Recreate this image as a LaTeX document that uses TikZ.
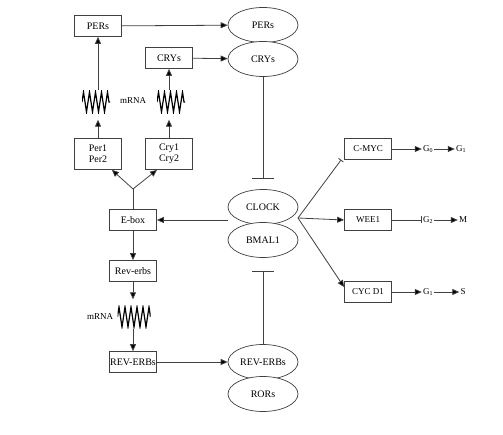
\documentclass[tikz,border=0pt]{standalone}
\usepackage{fontspec}
\setmainfont{Liberation Serif}
\usetikzlibrary{positioning,calc,arrows.meta,shapes.geometric,decorations.pathmorphing}

\begin{document}
\begin{tikzpicture}[x=1pt,y=-1pt,
    every node/.style={font=\fontsize{10}{11}\selectfont},
    gene/.style={draw=black!75, line width=0.7pt, minimum width=47pt, minimum height=21pt, inner sep=0pt, align=center},
    target/.style={gene, font=\fontsize{9}{10}\selectfont},
    prot/.style={ellipse, draw=black!75, line width=0.7pt, fill=white, minimum width=70pt, minimum height=35pt, inner sep=0pt},
    zig/.style={minimum width=28pt, minimum height=23pt, inner sep=0pt,
        path picture={\draw[line width=1.2pt, decorate, decoration={zigzag, segment length=6pt, amplitude=10pt}]
            (path picture bounding box.west) -- (path picture bounding box.east);}},
    phase/.style={inner sep=1pt, font=\fontsize{9}{10}\selectfont},
    link/.style={draw=black!75, line width=0.8pt},
    arr/.style={link, -{Triangle[length=7pt, width=6pt, fill=black]}},
    inh/.style={link, -{Bar[width=22pt, line width=0.8pt]}}
]
\useasboundingbox (0,0) rectangle (503,435);

% left column: genes and transcripts
\node[gene] (persg) at (98,26) {PERs};
\node[gene] (crysg) at (169,58) {CRYs};
\node[zig] (zper) at (96,102) {};
\node[zig] (zcry) at (171,102) {};
\node[font=\fontsize{9}{10}\selectfont] (mrna1) at (133,101) {mRNA};
\node[gene, minimum height=31pt] (per) at (98,154) {Per1\\Per2};
\node[gene, minimum height=31pt] (cry) at (169,154) {Cry1\\Cry2};
\coordinate (fork) at (133,189);
\node[gene] (ebox) at (133,220) {E-box};
\node[gene] (reverb) at (133,271) {Rev-erbs};
\node[zig, minimum width=33pt] (zrev) at (134,317) {};
\node[left=3pt of zrev, inner sep=1pt, font=\fontsize{9}{10}\selectfont] (mrna2) {mRNA};
\node[gene] (revg) at (133,362) {REV-ERBs};

% middle column: proteins
\node[prot] (pers) at (263,25) {PERs};
\node[prot] (crys) at (263,59) {CRYs};
\node[prot] (clock) at (263,207) {CLOCK};
\node[prot] (bmal) at (263,240) {BMAL1};
\node[prot] (reverbs) at (263,362) {REV-ERBs};
\node[prot] (rors) at (263,394) {RORs};

% right column: cell cycle
\node[target] (cmyc) at (368,149) {C-MYC};
\node[target] (wee) at (368,220) {WEE1};
\node[target] (cycd) at (368,292) {CYC D1};
\node[phase] (g0) at (428,149) {G\textsubscript{0}};
\node[phase] (g1) at (461,149) {G\textsubscript{1}};
\node[phase] (g2) at (428,220) {G\textsubscript{2}};
\node[phase] (mph) at (463,220) {M};
\node[phase] (g1s) at (428,292) {G\textsubscript{1}};
\node[phase] (sph) at (463,292) {S};
\coordinate (hub) at (298,218);

% connectors
\draw[arr] (persg) -- (pers);
\draw[arr] (crysg) -- (crys);
\draw[arr] (zper.north -| persg) -- (persg);
\draw[arr] (zcry.north -| crysg) -- (crysg);
\draw[arr, shorten >=6pt] (per) -- (per |- zper.south);
\draw[arr, shorten >=6pt] (cry) -- (cry |- zcry.south);
\draw[link] (ebox) -- (fork);
\draw[arr] (fork) -- ([xshift=-10pt]per.south east);
\draw[arr] (fork) -- ([xshift=-12pt]cry.south);
\draw[arr] (clock.west |- ebox) -- (ebox.east);
\draw[inh] (crys) -- ([yshift=10pt]clock.north);
\draw[arr] (ebox) -- (reverb);
\draw[arr, shorten >=6pt] (reverb) -- (reverb |- zrev.north);
\draw[arr] (reverb |- zrev.south) -- (revg);
\draw[arr] (revg) -- (reverbs);
\draw[inh] (reverbs) -- ([yshift=-13pt]bmal.south);

\draw[link, -{Bar[width=6pt, line width=0.8pt]}] (hub) -- ([xshift=-3pt]cmyc.south west);
\draw[arr] (hub) -- (wee.west);
\draw[arr] (hub) -- ([yshift=-6pt]cycd.north west);
\draw[arr] (cmyc) -- (g0);
\draw[arr] (g0) -- (g1);
\draw[link, -{Bar[width=7pt, line width=0.8pt]}] (wee) -- (g2);
\draw[arr] (g2) -- (mph);
\draw[arr] (cycd) -- (g1s);
\draw[arr] (g1s) -- (sph);
\end{tikzpicture}
\end{document}
